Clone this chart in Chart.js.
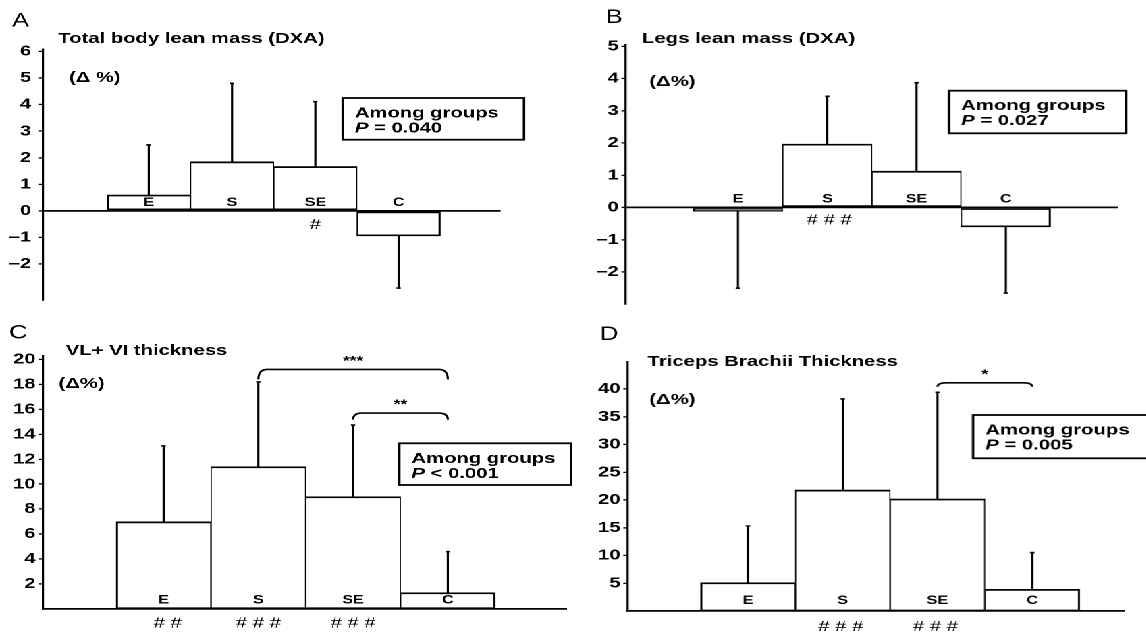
<!DOCTYPE html>
<html lang="en">
<head>
<meta charset="UTF-8">
<title>Lean mass and muscle thickness changes</title>
<script src="https://cdn.jsdelivr.net/npm/chart.js"></script>
<style>
    body {
        margin: 0;
        background: #ffffff;
        overflow: hidden;
    }

    /* the printed figure is stretched sideways, so the whole sheet is drawn narrow and widened */
    #sheet {
        position: relative;
        height: 635px;
        transform-origin: 0 0;
    }

    .panel {
        position: absolute;
    }
</style>
</head>
<body>
<div id="sheet">
    <div class="panel" id="panelA"><canvas id="chartA"></canvas></div>
    <div class="panel" id="panelB"><canvas id="chartB"></canvas></div>
    <div class="panel" id="panelC"><canvas id="chartC"></canvas></div>
    <div class="panel" id="panelD"><canvas id="chartD"></canvas></div>
</div>

<script>
    const groups = ['E', 'S', 'SE', 'C'];

    // A - total body lean mass (DXA), change in %
    const leanMean = [0.6, 1.85, 1.67, -0.94];
    const leanSD = [1.88, 2.95, 2.44, 1.96];
    const leanTicks = [-2, -1, 0, 1, 2, 3, 4, 5, 6];
    const leanHash = ['', '', '#', ''];

    // B - legs lean mass (DXA)
    const legsMean = [-0.11, 1.97, 1.13, -0.6];
    const legsSD = [2.39, 1.48, 2.74, 2.05];
    const legsTicks = [-2, -1, 0, 1, 2, 3, 4, 5];
    const legsHash = ['', '# # #', '', ''];

    // C - VL + VI thickness
    const vlMean = [6.98, 11.4, 8.99, 1.29];
    const vlSD = [6.08, 6.8, 5.75, 3.29];
    const vlTicks = [2, 4, 6, 8, 10, 12, 14, 16, 18, 20];
    const vlHash = ['# #', '# # #', '# # #', ''];
    const vlBrackets = [
        { from: 'S', to: 'C', level: 19.2, label: '***' },
        { from: 'SE', to: 'C', level: 15.7, label: '**' }
    ];

    // D - triceps brachii thickness
    const triMean = [5.12, 21.8, 20.2, 3.93];
    const triSD = [10.2, 16.4, 19.2, 6.6];
    const triTicks = [5, 10, 15, 20, 25, 30, 35, 40];
    const triHash = ['', '# # #', '# # #', ''];
    const triBrackets = [
        { from: 'SE', to: 'C', level: 41.1, label: '*' }
    ];

    const S = 1.35;          // sideways stretch of the original picture
    const HALF = 573;        // width of one panel, picture pixels
    const YW = 28;           // room for the y tick labels
    const FONT = '"Liberation Sans", Arial, Helvetica, sans-serif';

    // layout numbers are in picture pixels, local to each panel
    const panels = [
        {
            key: 'A', title: 'Total body lean mass (DXA)', unit: '(\u0394 %)', p: '= 0.040',
            mean: leanMean, sd: leanSD, ticks: leanTicks, hash: leanHash, brackets: [],
            left: 0, top: 0, height: 315, area: [43, 49.5, 500.6, 300],
            yRange: [-3.35, 6.07], xRange: [-0.27, 5.224], tickPad: 5.8,
            letterAt: [12, 26.5], titleAt: [58.3, 43], unitAt: [69, 82],
            box: [342.7, 98, 524, 139.7], labelDy: 8, hashDy: 14, hashDx: [0, 0, 0, 0], drops: []
        },
        {
            key: 'B', title: 'Legs lean mass (DXA)', unit: '(\u0394%)', p: '= 0.027',
            mean: legsMean, sd: legsSD, ticks: legsTicks, hash: legsHash, brackets: [],
            left: HALF, top: 0, height: 315, area: [53, 45, 544.5, 306.7],
            yRange: [-2.99, 5.04], xRange: [-0.259, 5.258], tickPad: 2,
            letterAt: [33, 23], titleAt: [69.4, 43], unitAt: [76.7, 86],
            box: [375.7, 90.7, 552.5, 133.3], labelDy: 8.3, hashDy: 12.7, hashDx: [0, 2, 0, 0], drops: []
        },
        {
            key: 'C', title: 'VL+ VI thickness', unit: '(\u0394%)', p: '< 0.001',
            mean: vlMean, sd: vlSD, ticks: vlTicks, hash: vlHash, brackets: vlBrackets,
            left: 0, top: 315, height: 320, area: [43.1, 40.7, 566.4, 293.8],
            yRange: [0, 20.3], xRange: [-0.272, 5.251], tickPad: 2.6,
            letterAt: [9, 23.3], titleAt: [65.8, 40], unitAt: [58.5, 73],
            box: [399.3, 128.3, 571.5, 170], labelDy: 8.8, hashDy: 14.5, hashDx: [4, 0, 0, 0], drops: [10, 6.6]
        },
        {
            key: 'D', title: 'Triceps Brachii Thickness', unit: '(\u0394%)', p: '= 0.005',
            mean: triMean, sd: triSD, ticks: triTicks, hash: triHash, brackets: triBrackets,
            left: HALF, top: 315, height: 320, area: [54.8, 46.7, 551, 296.1],
            yRange: [0, 44.9], xRange: [-0.273, 4.975], tickPad: 2,
            letterAt: [27.4, 25], titleAt: [74.9, 51], unitAt: [76.7, 89],
            box: [399.7, 100, 580, 143.3], labelDy: 10.4, hashDy: 16, hashDx: [0, -2, -2, 0], drops: [4]
        }
    ];

    const sheet = document.getElementById('sheet');
    sheet.style.width = (2 * HALF / S) + 'px';
    sheet.style.transform = 'scaleX(' + S + ')';

    // error bars, group letters, marks, brackets and the printed texts
    function overlay(p) {
        return {
            id: 'overlay' + p.key,
            afterDatasetsDraw(chart) {
                const ctx = chart.ctx;
                const x = chart.scales.x;
                const y = chart.scales.y;
                const y0 = y.getPixelForValue(0);
                const at = g => x.getPixelForValue(groups.indexOf(g) + 1);

                ctx.save();
                ctx.strokeStyle = '#000';
                ctx.fillStyle = '#000';

                // one sided SD bars
                ctx.lineWidth = 1.6;
                p.mean.forEach((m, i) => {
                    const cx = x.getPixelForValue(i + 1);
                    const ya = y.getPixelForValue(m);
                    const yb = y.getPixelForValue(m >= 0 ? m + p.sd[i] : m - p.sd[i]);
                    ctx.beginPath();
                    ctx.moveTo(cx, ya);
                    ctx.lineTo(cx, yb);
                    ctx.moveTo(cx - 1.6, yb);
                    ctx.lineTo(cx + 1.6, yb);
                    ctx.stroke();
                });

                ctx.textAlign = 'center';
                ctx.textBaseline = 'middle';
                ctx.font = 'bold 12px ' + FONT;
                groups.forEach((g, i) => ctx.fillText(g, x.getPixelForValue(i + 1), y0 - p.labelDy));

                ctx.font = '15px ' + FONT;
                p.hash.forEach((h, i) => {
                    if (h) ctx.fillText(h, x.getPixelForValue(i + 1) + p.hashDx[i] / S, y0 + p.hashDy);
                });

                // significance brackets between groups
                ctx.textBaseline = 'alphabetic';
                p.brackets.forEach((b, k) => {
                    const x1 = at(b.from);
                    const x2 = at(b.to);
                    const yt = y.getPixelForValue(b.level);
                    const drop = p.drops[k];
                    const rx = 9 / S;
                    ctx.lineWidth = 1.6;
                    ctx.beginPath();
                    ctx.moveTo(x1, yt + drop);
                    ctx.quadraticCurveTo(x1, yt, x1 + rx, yt);
                    ctx.lineTo(x2 - rx, yt);
                    ctx.quadraticCurveTo(x2, yt, x2, yt + drop);
                    ctx.stroke();
                    ctx.font = 'bold 13px ' + FONT;
                    ctx.fillText(b.label, (x1 + x2) / 2, yt - 4.5);
                });

                ctx.textAlign = 'left';
                ctx.font = '19px ' + FONT;
                ctx.fillText(p.key, p.letterAt[0] / S, p.letterAt[1]);

                ctx.font = 'bold 15px ' + FONT;
                ctx.fillText(p.title, p.titleAt[0] / S, p.titleAt[1]);
                ctx.fillText(p.unit, p.unitAt[0] / S, p.unitAt[1]);

                // "Among groups" box
                const [bl, bt, br, bb] = p.box;
                ctx.lineWidth = 1.8;
                ctx.strokeRect(bl / S, bt, (br - bl) / S, bb - bt);
                ctx.fillText('Among groups', bl / S + 9, bt + 19.5);
                ctx.font = 'bold italic 15px ' + FONT;
                ctx.fillText('P', bl / S + 9, bt + 34.5);
                const pw = ctx.measureText('P').width;
                ctx.font = 'bold 15px ' + FONT;
                ctx.fillText(' ' + p.p, bl / S + 9 + pw, bt + 34.5);

                ctx.restore();
            }
        };
    }

    function drawPanel(p) {
        const box = document.getElementById('panel' + p.key);
        box.style.left = (p.left / S) + 'px';
        box.style.top = p.top + 'px';
        box.style.width = (HALF / S) + 'px';
        box.style.height = p.height + 'px';

        const [al, at, ar, ab] = p.area;
        const footLine = p.yRange[0] === 0;

        new Chart(document.getElementById('chart' + p.key), {
            type: 'bar',
            data: {
                datasets: [{
                    data: p.mean.map((v, i) => ({ x: i + 1, y: v })),
                    backgroundColor: '#ffffff',
                    borderColor: '#000000',
                    borderWidth: c => ({
                        top: 1.8,
                        bottom: 1.8,
                        left: c.dataIndex === 0 ? 1.6 : 0.9,
                        right: c.dataIndex === groups.length - 1 ? 1.6 : 0.9
                    }),
                    borderSkipped: false,
                    barPercentage: 1,
                    categoryPercentage: 1
                }]
            },
            options: {
                responsive: true,
                maintainAspectRatio: false,
                animation: false,
                devicePixelRatio: 2,
                events: [],
                layout: {
                    padding: { left: al / S - YW, top: at, right: (HALF - ar) / S, bottom: p.height - ab }
                },
                plugins: {
                    legend: { display: false },
                    tooltip: { enabled: false }
                },
                scales: {
                    x: {
                        type: 'linear',
                        min: p.xRange[0],
                        max: p.xRange[1],
                        offset: false,
                        display: footLine,
                        afterBuildTicks: ax => { ax.ticks = groups.map((g, i) => ({ value: i + 1 })); },
                        afterFit: ax => { ax.height = 0; },
                        grid: { display: false },
                        ticks: { display: false },
                        border: { display: true, color: '#000', width: 1.8 }
                    },
                    y: {
                        min: p.yRange[0],
                        max: p.yRange[1],
                        afterBuildTicks: ax => { ax.ticks = p.ticks.map(v => ({ value: v })); },
                        afterFit: ax => { ax.width = YW; },
                        border: { display: true, color: '#000', width: 1.6 },
                        grid: {
                            drawOnChartArea: true,
                            color: c => (c.tick && c.tick.value === 0 ? '#000' : 'rgba(0,0,0,0)'),
                            lineWidth: 1.8,
                            tickColor: '#000',
                            tickLength: 3,
                            tickWidth: 1.3
                        },
                        ticks: {
                            autoSkip: false,
                            color: '#000',
                            padding: p.tickPad,
                            font: { family: FONT, size: 15, weight: 'bold' },
                            callback: v => (v < 0 ? '\u2013' + (-v) : String(v))
                        }
                    }
                }
            },
            plugins: [overlay(p)]
        });
    }

    panels.forEach(drawPanel);
</script>
</body>
</html>
